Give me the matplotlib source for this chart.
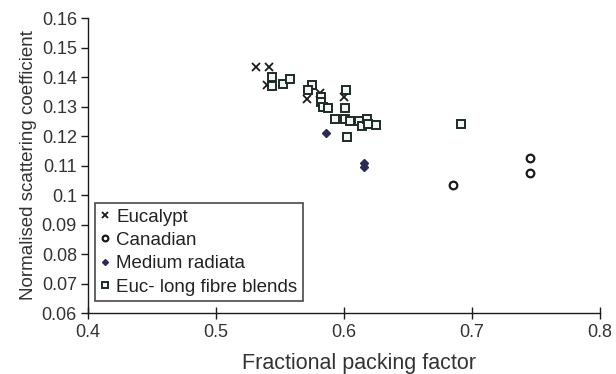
import matplotlib
matplotlib.use('Agg')
import matplotlib.pyplot as plt

# packing factor vs normalised scattering coefficient, per pulp type
euc_x = [0.531, 0.5417, 0.540, 0.5708, 0.5813, 0.6003]
euc_y = [0.1434, 0.1434, 0.1372, 0.1324, 0.1347, 0.1332]

can_x = [0.7453, 0.7453, 0.6854]
can_y = [0.1126, 0.1075, 0.1033]

rad_x = [0.586, 0.6156, 0.6156]
rad_y = [0.1210, 0.1095, 0.1110]

blend_x = [0.5435, 0.544, 0.552, 0.5578, 0.5747, 0.572, 0.582, 0.582, 0.5833,
           0.5878, 0.593, 0.6016, 0.601, 0.601, 0.6047, 0.6026, 0.612, 0.6138,
           0.6177, 0.6185, 0.625, 0.6914]
blend_y = [0.1400, 0.1368, 0.1377, 0.1394, 0.1372, 0.1355, 0.1332, 0.1315, 0.1298,
           0.1295, 0.1259, 0.1355, 0.1296, 0.1259, 0.1250, 0.1197, 0.1250, 0.1233,
           0.1256, 0.1242, 0.1236, 0.1240]

x_ticks = [0.4, 0.5, 0.6, 0.7, 0.8]
x_labels = ['0.4', '0.5', '0.6', '0.7', '0.8']
y_ticks = [0.06, 0.07, 0.08, 0.09, 0.1, 0.11, 0.12, 0.13, 0.14, 0.15, 0.16]
y_labels = ['0.06', '0.07', '0.08', '0.09', '0.1', '0.11', '0.12',
            '0.13', '0.14', '0.15', '0.16']

plt.rcParams['font.family'] = ['Liberation Sans', 'DejaVu Sans']

fig = plt.figure(figsize=(6.16, 3.74), dpi=100)
ax = fig.add_axes([0.1429, 0.1631, 0.831, 0.7887])

ax.plot(euc_x, euc_y, 'x', color='#1a1a1a', ms=6, mew=1.3, label='Eucalypt')
ax.plot(can_x, can_y, 'o', mfc='white', mec='#1a1a1a', ms=5.5, mew=1.6,
        label='Canadian')
ax.plot(rad_x, rad_y, 'D', color='#2b2b55', ms=4, label='Medium radiata')
ax.plot(blend_x, blend_y, 's', mfc='#f4f6f4', mec='#1c2a28', ms=6, mew=1.4,
        label='Euc- long fibre blends')

ax.set_xlim(0.4, 0.8)
ax.set_ylim(0.06, 0.16)
ax.set_xticks(x_ticks)
ax.set_xticklabels(x_labels)
ax.set_yticks(y_ticks)
ax.set_yticklabels(y_labels)

for s in ['top', 'right']:
    ax.spines[s].set_visible(False)
for s in ['left', 'bottom']:
    ax.spines[s].set_linewidth(1.0)
    ax.spines[s].set_color('#1a1a1a')
ax.tick_params(axis='x', direction='inout', length=8, width=1, labelsize=13,
               colors='#1a1a1a', labelcolor='#333333', pad=4)
ax.tick_params(axis='y', direction='out', length=5, width=1, labelsize=13,
               colors='#1a1a1a', labelcolor='#333333', pad=3)

ax.set_xlabel('Fractional packing factor', fontsize=15.5, color='#333333')
ax.xaxis.set_label_coords(0.53, -0.135, transform=ax.transAxes)
ax.xaxis.label.set_verticalalignment('top')
ax.set_ylabel('Normalised scattering coefficient', fontsize=13.5,
              color='#333333', labelpad=3)

leg = ax.legend(loc='lower left', bbox_to_anchor=(0.013, 0.04), fontsize=13.5,
                frameon=True, fancybox=False, handlelength=0.55,
                handletextpad=0.3, borderpad=0.3, labelspacing=0.33,
                borderaxespad=0, markerscale=0.75)
leg.get_frame().set_edgecolor('#1a1a1a')
leg.get_frame().set_linewidth(1.2)
for t in leg.get_texts():
    t.set_color('#222222')

fig.savefig('out.png', dpi=100)
